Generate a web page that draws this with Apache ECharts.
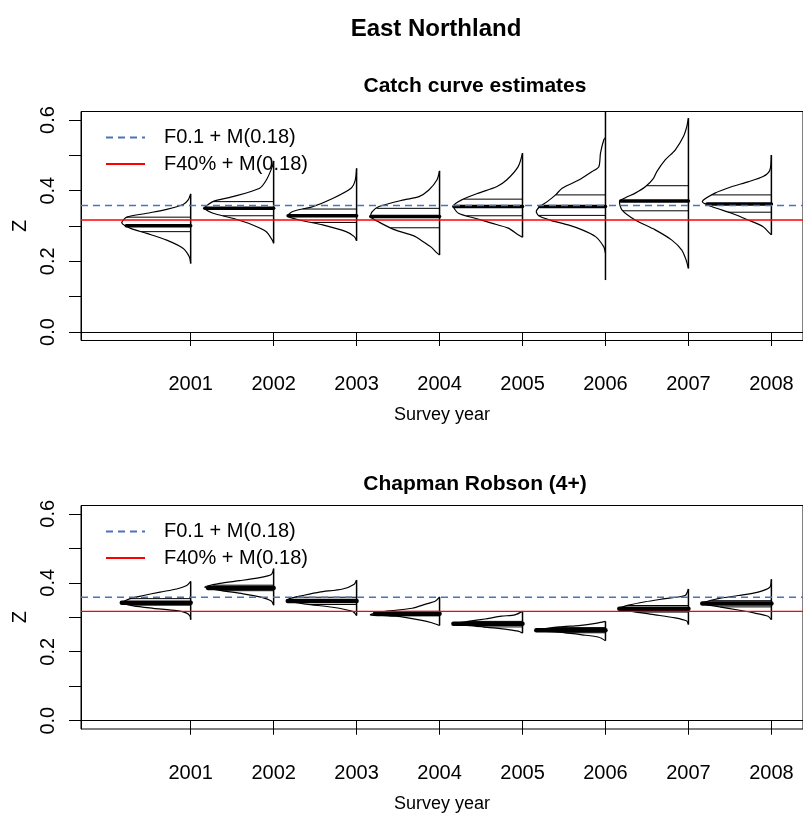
<!DOCTYPE html>
<html>
<head>
<meta charset="utf-8">
<script src="https://cdn.jsdelivr.net/npm/echarts@6/dist/echarts.min.js"></script>
<style>
html,body{margin:0;padding:0;background:#fff;}
#chart{width:803px;height:814px;}
</style>
</head>
<body>
<div id="chart"></div>
<script>
// ---------- data ----------
const years = [2001, 2002, 2003, 2004, 2005, 2006, 2007, 2008];
const yTicks = [0, 0.1, 0.2, 0.3, 0.4, 0.5, 0.6];
const yLabels = [0, 0.2, 0.4, 0.6];
const refF01 = 0.358;   // F0.1 + M(0.18)
const refF40 = 0.317;   // F40% + M(0.18)

// Catch curve estimates: vertical range, quantile lines, density outline [Z, width(years)]
const ccRangeMin = [0.194, 0.251, 0.258, 0.218, 0.268, 0.147, 0.180, 0.275];
const ccRangeMax = [0.391, 0.484, 0.463, 0.456, 0.506, 0.624, 0.605, 0.501];
const ccQLow     = [0.284, 0.329, 0.310, 0.295, 0.329, 0.330, 0.343, 0.339];
const ccMedian   = [0.301, 0.350, 0.329, 0.327, 0.355, 0.355, 0.371, 0.362];
const ccQHigh    = [0.325, 0.369, 0.348, 0.350, 0.376, 0.388, 0.414, 0.388];
const ccShapes = [
  [[0.391,0],[0.374,0.03],[0.361,0.09],[0.347,0.289],[0.336,0.529],[0.325,0.77],[0.309,0.83],[0.294,0.73],[0.279,0.529],[0.260,0.289],[0.237,0.093],[0.213,0.017],[0.194,0]],
  [[0.484,0],[0.468,0.016],[0.430,0.088],[0.407,0.168],[0.383,0.493],[0.369,0.733],[0.350,0.83],[0.336,0.73],[0.322,0.493],[0.303,0.252],[0.284,0.088],[0.260,0.016],[0.251,0]],
  [[0.463,0],[0.430,0.016],[0.407,0.067],[0.378,0.289],[0.355,0.529],[0.341,0.77],[0.328,0.83],[0.317,0.689],[0.303,0.409],[0.284,0.127],[0.270,0.028],[0.258,0]],
  [[0.456,0],[0.430,0.032],[0.402,0.129],[0.383,0.249],[0.374,0.429],[0.355,0.73],[0.340,0.814],[0.326,0.83],[0.311,0.73],[0.289,0.537],[0.272,0.309],[0.260,0.225],[0.241,0.105],[0.224,0.032],[0.218,0]],
  [[0.506,0],[0.468,0.052],[0.430,0.192],[0.411,0.313],[0.393,0.533],[0.374,0.733],[0.357,0.833],[0.336,0.773],[0.322,0.572],[0.308,0.373],[0.294,0.172],[0.275,0.052],[0.268,0]],
  [[0.550,0],[0.544,0.02],[0.506,0.06],[0.468,0.08],[0.454,0.161],[0.430,0.321],[0.407,0.522],[0.388,0.601],[0.369,0.702],[0.355,0.79],[0.341,0.834],[0.328,0.80],[0.316,0.66],[0.303,0.45],[0.289,0.281],[0.270,0.12],[0.241,0.02],[0.223,0]],
  [[0.605,0],[0.581,0.02],[0.553,0.06],[0.515,0.16],[0.487,0.28],[0.454,0.381],[0.435,0.421],[0.411,0.52],[0.393,0.641],[0.380,0.76],[0.369,0.83],[0.345,0.80],[0.317,0.641],[0.289,0.40],[0.260,0.20],[0.232,0.08],[0.204,0.028],[0.180,0]],
  [[0.501,0],[0.458,0.019],[0.440,0.10],[0.425,0.28],[0.411,0.481],[0.393,0.68],[0.369,0.833],[0.355,0.721],[0.336,0.481],[0.317,0.28],[0.298,0.10],[0.279,0.019],[0.275,0]]
];

// Chapman Robson (4+)
const crRangeMin = [0.293, 0.335, 0.305, 0.276, 0.254, 0.232, 0.279, 0.293];
const crRangeMax = [0.404, 0.441, 0.408, 0.359, 0.317, 0.288, 0.382, 0.410];
const crQLow     = [0.335, 0.377, 0.337, 0.304, 0.272, 0.255, 0.315, 0.330];
const crMedian   = [0.342, 0.385, 0.347, 0.310, 0.281, 0.262, 0.325, 0.340];
const crQHigh    = [0.354, 0.393, 0.358, 0.317, 0.288, 0.270, 0.334, 0.348];
const crShapes = [
  [[0.404,0],[0.392,0.048],[0.382,0.168],[0.373,0.369],[0.363,0.57],[0.354,0.73],[0.342,0.83],[0.333,0.69],[0.326,0.45],[0.319,0.168],[0.312,0.048],[0.303,0.008],[0.293,0]],
  [[0.441,0],[0.424,0.028],[0.415,0.168],[0.406,0.409],[0.398,0.649],[0.387,0.83],[0.378,0.649],[0.368,0.369],[0.359,0.168],[0.347,0.028],[0.335,0]],
  [[0.408,0],[0.396,0.028],[0.382,0.168],[0.373,0.448],[0.363,0.649],[0.354,0.809],[0.347,0.83],[0.338,0.608],[0.329,0.289],[0.317,0.048],[0.305,0]],
  [[0.359,0],[0.347,0.048],[0.338,0.168],[0.326,0.329],[0.317,0.649],[0.307,0.833],[0.303,0.529],[0.291,0.213],[0.284,0.093],[0.276,0]],
  [[0.317,0],[0.307,0.091],[0.303,0.252],[0.295,0.452],[0.288,0.653],[0.281,0.833],[0.274,0.572],[0.268,0.292],[0.260,0.052],[0.254,0]],
  [[0.288,0],[0.282,0.12],[0.276,0.321],[0.272,0.561],[0.262,0.834],[0.256,0.522],[0.249,0.281],[0.242,0.08],[0.232,0]],
  [[0.382,0],[0.363,0.04],[0.354,0.28],[0.345,0.52],[0.335,0.721],[0.325,0.833],[0.317,0.681],[0.307,0.40],[0.298,0.16],[0.289,0.02],[0.279,0]],
  [[0.410,0],[0.387,0.019],[0.373,0.16],[0.363,0.40],[0.354,0.641],[0.340,0.833],[0.331,0.641],[0.321,0.40],[0.312,0.20],[0.303,0.04],[0.293,0]]
];

// ---------- drawing ----------
const FONT = "'Liberation Sans', Arial, Helvetica, sans-serif";
const X_MIN = 1999.678, X_MAX = 2008.381;

function widthAt(shape, z) {
  for (let k = 0; k < shape.length - 1; k++) {
    const a = shape[k], b = shape[k + 1];
    if (z <= a[0] && z >= b[0]) {
      const t = (a[0] - z) / (a[0] - b[0]);
      return a[1] + t * (b[1] - a[1]);
    }
  }
  return 0;
}

function makeRender(shapes, rMin, rMax, qLow, med, qHigh, thick) {
  return function (params, api) {
    const i = params.dataIndex;
    const yr = years[i];
    const shape = shapes[i];
    const children = [];
    const pts = shape.map(p => api.coord([yr - p[1], p[0]]));
    children.push({ type: 'polyline', shape: { points: pts, smooth: 0.25 },
      style: { stroke: '#000', fill: null, lineWidth: 1.2 } });
    const v0 = api.coord([yr, rMin[i]]), v1 = api.coord([yr, rMax[i]]);
    children.push({ type: 'line', shape: { x1: v0[0], y1: v0[1], x2: v1[0], y2: v1[1] },
      style: { stroke: '#000', lineWidth: 1.5 } });
    [qLow[i], qHigh[i]].forEach(z => {
      const a = api.coord([yr - widthAt(shape, z), z]), b = api.coord([yr, z]);
      children.push({ type: 'line', shape: { x1: a[0], y1: a[1], x2: b[0], y2: b[1] },
        style: { stroke: '#000', lineWidth: 1 } });
    });
    const zm = med[i];
    const a = api.coord([yr - widthAt(shape, zm), zm]), b = api.coord([yr, zm]);
    children.push({ type: 'line', shape: { x1: a[0], y1: a[1], x2: b[0], y2: b[1] },
      style: { stroke: '#000', lineWidth: thick, lineCap: 'round' } });
    return { type: 'group', children: children };
  };
}

const grids = [
  { left: 81, top: 111.5, width: 724, height: 229 },
  { left: 81, top: 505.5, width: 724, height: 230.7 }
];

function xAxisFor(gi) {
  return {
    type: 'value', gridIndex: gi, min: X_MIN, max: X_MAX,
    name: 'Survey year', nameLocation: 'middle', nameGap: 66,
    nameTextStyle: { color: '#000', fontSize: 18, fontFamily: FONT },
    axisLine: { show: true, lineStyle: { color: '#000', width: 1 } },
    axisTick: { show: true, customValues: years, length: 14, lineStyle: { color: '#000' } },
    axisLabel: { customValues: years, margin: 34, color: '#000', fontSize: 20, fontFamily: FONT,
      formatter: v => String(Math.round(v)) },
    splitLine: { show: false }
  };
}
function yAxisFor(gi) {
  return {
    type: 'value', gridIndex: gi, min: -0.024, max: 0.624,
    name: 'Z', nameLocation: 'middle', nameGap: 47, nameRotate: 90,
    nameTextStyle: { color: '#000', fontSize: 20, fontFamily: FONT },
    axisLine: { show: true, lineStyle: { color: '#000', width: 1 } },
    axisTick: { show: true, customValues: yTicks, length: 12, lineStyle: { color: '#000' } },
    axisLabel: { customValues: yLabels, rotate: 90, margin: 23, color: '#000', fontSize: 20, fontFamily: FONT,
      formatter: v => v.toFixed(1) },
    splitLine: { show: false }
  };
}

function refSeries(name, val, gi, color, type, width) {
  return {
    type: 'line', name: name, xAxisIndex: gi, yAxisIndex: gi,
    data: [[X_MIN, val], [X_MAX, val]], symbol: 'none', silent: true, z: 5,
    lineStyle: { color: color, type: type, width: width },
    itemStyle: { color: 'rgba(0,0,0,0)', borderWidth: 0, opacity: 0 },
    animation: false
  };
}

const NAME1 = 'F0.1 + M(0.18)', NAME2 = 'F40% + M(0.18)';
const BLUE = '#4f70bd', RED = '#ff0000';

function legendFor(top) {
  return {
    orient: 'vertical', left: 100, top: top, itemWidth: 39, itemHeight: 14, itemGap: 6.5,
    data: [NAME1, NAME2], selectedMode: false,
    itemStyle: { opacity: 0, borderWidth: 0 },
    textStyle: { color: '#000', fontSize: 20, fontFamily: FONT, lineHeight: 20, padding: [0, 0, 0, 14] }
  };
}

const chart = echarts.init(document.getElementById('chart'), null, { renderer: 'canvas' });
chart.setOption({
  animation: false,
  backgroundColor: '#fff',
  title: [
    { text: 'East Northland', left: 431, textAlign: 'center', top: 12,
      textStyle: { fontSize: 24, fontWeight: 'bold', color: '#000', fontFamily: FONT } },
    { text: 'Catch curve estimates', left: 470, textAlign: 'center', top: 71,
      textStyle: { fontSize: 21, fontWeight: 'bold', color: '#000', fontFamily: FONT } },
    { text: 'Chapman Robson (4+)', left: 470, textAlign: 'center', top: 469,
      textStyle: { fontSize: 21, fontWeight: 'bold', color: '#000', fontFamily: FONT } }
  ],
  legend: [legendFor(122.5), legendFor(516.5)],
  grid: grids.map(g => Object.assign({ show: true, borderColor: '#000', borderWidth: 1, backgroundColor: 'transparent' }, g)),
  xAxis: [xAxisFor(0), xAxisFor(1)],
  yAxis: [yAxisFor(0), yAxisFor(1)],
  series: [
    { type: 'custom', name: 'cc', xAxisIndex: 0, yAxisIndex: 0, z: 2,
      data: years.map((y, i) => [y, ccMedian[i]]),
      renderItem: makeRender(ccShapes, ccRangeMin, ccRangeMax, ccQLow, ccMedian, ccQHigh, 3.5) },
    { type: 'custom', name: 'cr', xAxisIndex: 1, yAxisIndex: 1, z: 2,
      data: years.map((y, i) => [y, crMedian[i]]),
      renderItem: makeRender(crShapes, crRangeMin, crRangeMax, crQLow, crMedian, crQHigh, 4.5) },
    refSeries(NAME1, refF01, 0, BLUE, [7, 5], 1.3),
    refSeries(NAME2, refF40, 0, RED, 'solid', 1.3),
    refSeries(NAME1, refF01, 1, BLUE, [7, 5], 1.3),
    refSeries(NAME2, refF40, 1, RED, 'solid', 1.3)
  ]
});
</script>
</body>
</html>
